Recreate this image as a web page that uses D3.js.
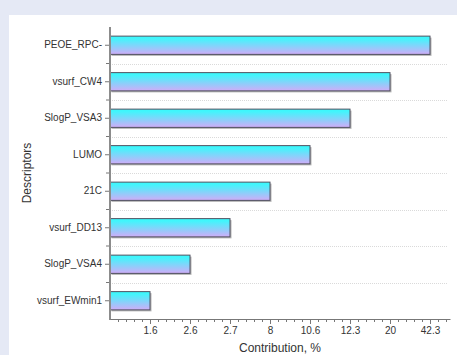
<!DOCTYPE html>
<html>
<head>
<meta charset="utf-8">
<script src="https://cdn.jsdelivr.net/npm/d3@7/dist/d3.min.js"></script>
<style>
  html, body { margin: 0; padding: 0; background: #e5e9f5; }
  svg { display: block; }
  text { font-family: "Liberation Sans", Arial, sans-serif; fill: #333; }
</style>
</head>
<body>
<svg id="chart" width="457" height="355"></svg>
<script>
// Descriptors, top to bottom, and their contribution (%)
const descriptors = ["PEOE_RPC-", "vsurf_CW4", "SlogP_VSA3", "LUMO", "21C", "vsurf_DD13", "SlogP_VSA4", "vsurf_EWmin1"];
const contributions = [42.3, 20, 12.3, 10.6, 8, 2.7, 2.6, 1.6];
// The x axis is a rank axis: one evenly spaced tick per contribution value
const tickLabels = ["1.6", "2.6", "2.7", "8", "10.6", "12.3", "20", "42.3"];

const svg = d3.select("#chart");
const W = 457, H = 355;
const m = { left: 110, right: 7, top: 27, bottom: 36 };

// white plotting panel
svg.append("rect").attr("x", 9).attr("y", 15).attr("width", W - 9).attr("height", H - 15).attr("fill", "#fff");

const defs = svg.append("defs");
const grad = defs.append("linearGradient").attr("id", "barGrad").attr("x1", 0).attr("y1", 0).attr("x2", 0).attr("y2", 1);
grad.append("stop").attr("offset", "0%").attr("stop-color", "#38f8fc");
grad.append("stop").attr("offset", "15%").attr("stop-color", "#44f4fc");
grad.append("stop").attr("offset", "100%").attr("stop-color", "#d0acf8");

const x = d3.scaleLinear().domain([0, tickLabels.length + 0.5]).range([m.left, W - m.right]);
const y = d3.scaleBand().domain(descriptors).range([m.top, H - m.bottom]).paddingInner(0.5).paddingOuter(0.25);
const rankOf = v => tickLabels.indexOf(String(v)) + 1;

const yBottom = H - m.bottom;

// dotted gridlines at category boundaries
const step = y.step();
const bounds = descriptors.slice(1).map(d => y(d) - y.paddingInner() * step / 2);
svg.append("g").selectAll("line").data(bounds).join("line")
  .attr("x1", m.left + 2).attr("x2", W - 9)
  .attr("y1", d => Math.round(d) + 0.5).attr("y2", d => Math.round(d) + 0.5)
  .attr("stroke", "#dadada").attr("stroke-dasharray", "1,1");

// bars with a soft drop shadow
const bars = svg.append("g");
descriptors.forEach((d, i) => {
  const w = x(rankOf(contributions[i])) - x(0);
  bars.append("rect")
    .attr("x", x(0) + 1.5).attr("y", y(d) + 1.5)
    .attr("width", w).attr("height", y.bandwidth())
    .attr("fill", "#b4b4b4");
  bars.append("rect")
    .attr("x", x(0)).attr("y", y(d))
    .attr("width", w).attr("height", y.bandwidth())
    .attr("fill", "url(#barGrad)")
    .attr("stroke", "#505060").attr("stroke-width", 1);
});

// y axis: major ticks at categories, minor ticks at boundaries
const yAxis = svg.append("g").attr("transform", `translate(${m.left},0)`)
  .call(d3.axisLeft(y).tickSize(5).tickPadding(3));
yAxis.select(".domain").remove();
yAxis.selectAll(".tick line").attr("stroke", "#777");
yAxis.selectAll(".tick text").attr("font-size", 10).style("fill", "#333");
svg.append("g").selectAll("line").data(bounds).join("line")
  .attr("x1", m.left - 4).attr("x2", m.left)
  .attr("y1", d => d).attr("y2", d => d)
  .attr("stroke", "#777");
svg.append("line").attr("x1", m.left).attr("x2", m.left)
  .attr("y1", m.top).attr("y2", yBottom + 1)
  .attr("stroke", "#8c8c8c").attr("stroke-width", 2);

// x axis with minor ticks
const minor = d3.range(0, tickLabels.length + 0.5001, 0.2).filter(v => Math.abs(v - Math.round(v)) > 1e-6);
svg.append("g").attr("transform", `translate(0,${yBottom})`)
  .call(d3.axisBottom(x).tickValues(minor).tickSize(3).tickFormat(""))
  .call(g => g.select(".domain").remove())
  .selectAll(".tick line").attr("stroke", "#777");
const xAxis = svg.append("g").attr("transform", `translate(0,${yBottom})`)
  .call(d3.axisBottom(x).tickValues(d3.range(1, tickLabels.length + 1))
    .tickFormat(i => tickLabels[i - 1]).tickSize(5).tickPadding(3).tickSizeOuter(0));
xAxis.select(".domain").attr("stroke", "#777");
xAxis.selectAll(".tick line").attr("stroke", "#777");
xAxis.selectAll(".tick text").attr("font-size", 10).style("fill", "#333");

// axis titles
svg.append("text").attr("x", (m.left + W - m.right) / 2).attr("y", 352)
  .attr("text-anchor", "middle").attr("font-size", 12).text("Contribution, %");
svg.append("text").attr("transform", `translate(31,${(m.top + yBottom) / 2}) rotate(-90)`)
  .attr("text-anchor", "middle").attr("font-size", 12).text("Descriptors");
</script>
</body>
</html>
